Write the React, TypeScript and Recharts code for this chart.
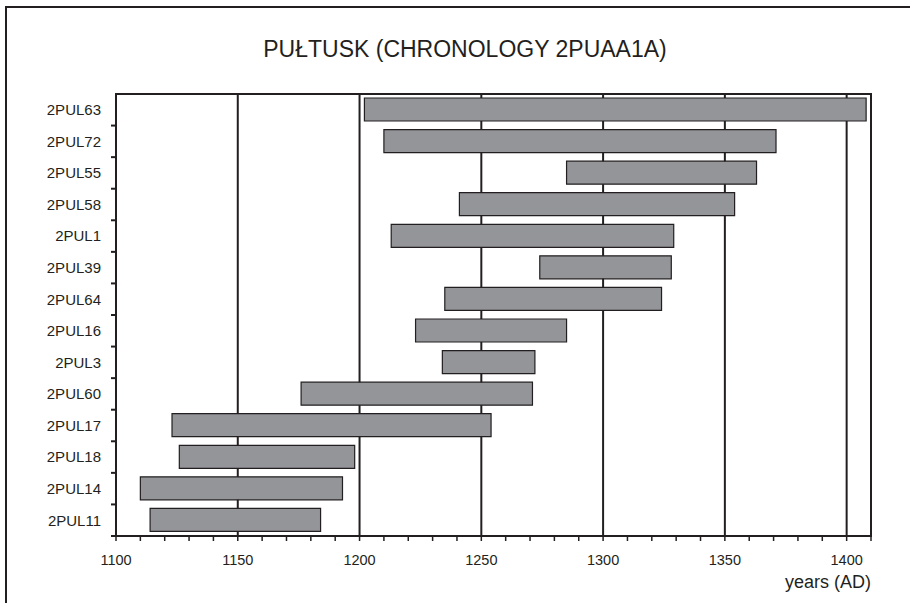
import React from "react";
import {
  BarChart,
  Bar,
  XAxis,
  YAxis,
  CartesianGrid,
  ReferenceArea,
} from "recharts";

// samples, top to bottom
const SAMPLES = [
  "2PUL63", "2PUL72", "2PUL55", "2PUL58", "2PUL1", "2PUL39", "2PUL64",
  "2PUL16", "2PUL3", "2PUL60", "2PUL17", "2PUL18", "2PUL14", "2PUL11",
];
const START_YEARS = [1202, 1210, 1285, 1241, 1213, 1274, 1235, 1223, 1234, 1176, 1123, 1126, 1110, 1114];
const END_YEARS = [1408, 1371, 1363, 1354, 1329, 1328, 1324, 1285, 1272, 1271, 1254, 1198, 1193, 1184];

const X_TICKS = [
  1100, 1110, 1120, 1130, 1140, 1150, 1160, 1170, 1180, 1190, 1200, 1210, 1220, 1230, 1240, 1250,
  1260, 1270, 1280, 1290, 1300, 1310, 1320, 1330, 1340, 1350, 1360, 1370, 1380, 1390, 1400, 1410,
];
const GRID_YEARS = [1150, 1200, 1250, 1300, 1350, 1400];

const data = SAMPLES.map((name, i) => ({ name, range: [START_YEARS[i], END_YEARS[i]] }));

const INK = "#231f20";
const FONT = "'Liberation Sans', Arial, sans-serif";
const W = 910;
const H = 603;
const M = { top: 94, right: 39, bottom: 27, left: 16 };
const X_AXIS_H = 40;
const BAND = (H - M.top - M.bottom - X_AXIS_H) / SAMPLES.length;

const YTick = (props: any) => {
  const { x, y, payload, index } = props;
  const axisX = x + 15;
  return (
    <g>
      <text x={x} y={y} dy="0.36em" textAnchor="end" fontSize={15} fill={INK} fontFamily={FONT}>
        {payload.value}
      </text>
      {index > 0 && (
        <line x1={axisX - 5} x2={axisX} y1={y - BAND / 2} y2={y - BAND / 2} stroke={INK} strokeWidth={2} />
      )}
      {index === SAMPLES.length - 1 && (
        <line x1={axisX - 5} x2={axisX} y1={y + BAND / 2} y2={y + BAND / 2} stroke={INK} strokeWidth={2} />
      )}
    </g>
  );
};

const XTick = (props: any) => {
  const { x, y, payload } = props;
  if (payload.value % 50 !== 0) return <g />;
  return (
    <text x={x} y={y} dy="0.71em" textAnchor="middle" fontSize={14.5} fill={INK} fontFamily={FONT}>
      {payload.value}
    </text>
  );
};

export default function App() {
  return (
    <div style={{ position: "absolute", left: 0, top: 0, width: W, height: H, overflow: "hidden", background: "#fff" }}>
      <div style={{ position: "absolute", left: 0, top: 0 }}>
        <BarChart width={W} height={H} data={data} layout="vertical" margin={M} barSize={23}>
          <text x={465} y={57} textAnchor="middle" fontSize={23} fill={INK} fontFamily={FONT}>
            PUŁTUSK (CHRONOLOGY 2PUAA1A)
          </text>
          <CartesianGrid horizontal={false} verticalValues={GRID_YEARS} stroke={INK} strokeWidth={2} />
          <XAxis
            type="number"
            domain={[1100, 1410]}
            ticks={X_TICKS}
            interval={0}
            height={X_AXIS_H}
            allowDataOverflow
            stroke={INK}
            axisLine={{ stroke: INK, strokeWidth: 2 }}
            tickLine={{ stroke: INK, strokeWidth: 1.5 }}
            tickSize={5}
            tickMargin={14}
            tick={<XTick />}
          />
          <YAxis
            type="category"
            dataKey="name"
            width={100}
            interval={0}
            axisLine={{ stroke: INK, strokeWidth: 2 }}
            tickLine={false}
            tickSize={5}
            tickMargin={10}
            tick={<YTick />}
          />
          <ReferenceArea x1={1100} x2={1410} fill="none" stroke={INK} strokeWidth={2} ifOverflow="visible" />
          <Bar dataKey="range" fill="#939598" stroke={INK} strokeWidth={1.2} isAnimationActive={false} />
          <text x={871} y={588} textAnchor="end" fontSize={18} fill={INK} fontFamily={FONT}>
            years (AD)
          </text>
        </BarChart>
      </div>
      <div
        style={{
          position: "absolute",
          left: 5,
          top: 6,
          width: 1000,
          height: 1000,
          border: `2px solid ${INK}`,
          pointerEvents: "none",
        }}
      />
    </div>
  );
}
